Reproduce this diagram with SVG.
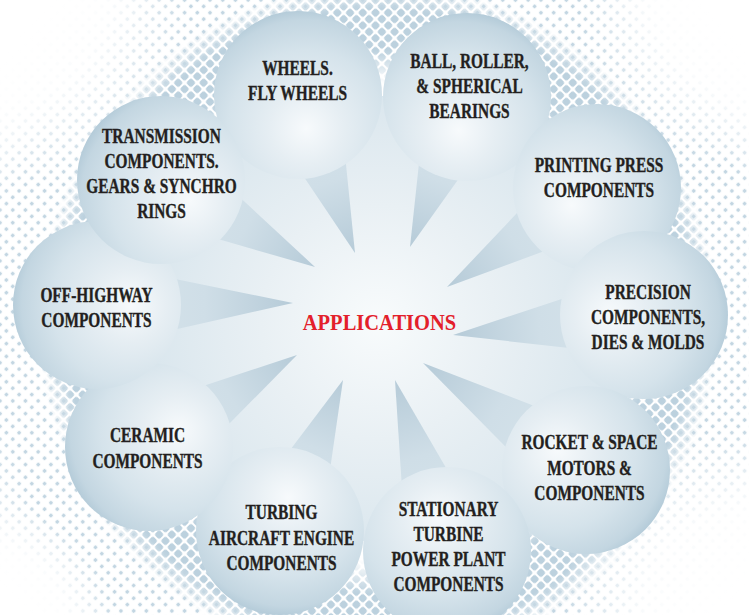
<svg xmlns="http://www.w3.org/2000/svg" width="749" height="615" viewBox="0 0 749 615">
<style>
.lbl{font-family:"Liberation Serif","Times New Roman",serif;font-weight:bold;font-size:20px;fill:#231f20;stroke:#231f20;stroke-width:0.35px;text-anchor:middle}
.title{font-family:"Liberation Serif","Times New Roman",serif;font-weight:bold;font-size:24px;fill:#e3202b;text-anchor:middle}
</style>
<defs>
<radialGradient id="bub" r="0.72">
<stop offset="0" stop-color="#f7fafc"/>
<stop offset="0.3" stop-color="#e6eef3"/>
<stop offset="0.65" stop-color="#d5e3eb"/>
<stop offset="0.9" stop-color="#c3d6e1"/>
<stop offset="1" stop-color="#b1c9d7"/>
</radialGradient>
<radialGradient id="b1" href="#bub" cx="0.55" cy="0.7" fx="0.55" fy="0.7"/>
<radialGradient id="b2" href="#bub" cx="0.45" cy="0.7" fx="0.45" fy="0.7"/>
<radialGradient id="b3" href="#bub" cx="0.35" cy="0.6" fx="0.35" fy="0.6"/>
<radialGradient id="b4" href="#bub" cx="0.3" cy="0.5" fx="0.3" fy="0.5"/>
<radialGradient id="b5" href="#bub" cx="0.33" cy="0.38" fx="0.33" fy="0.38"/>
<radialGradient id="b6" href="#bub" cx="0.45" cy="0.3" fx="0.45" fy="0.3"/>
<radialGradient id="b7" href="#bub" cx="0.55" cy="0.3" fx="0.55" fy="0.3"/>
<radialGradient id="b8" href="#bub" cx="0.68" cy="0.4" fx="0.68" fy="0.4"/>
<radialGradient id="b9" href="#bub" cx="0.7" cy="0.5" fx="0.7" fy="0.5"/>
<radialGradient id="b10" href="#bub" cx="0.67" cy="0.62" fx="0.67" fy="0.62"/>
<linearGradient id="tail" gradientUnits="userSpaceOnUse">
<stop offset="0" stop-color="#d8e5ec"/>
<stop offset="0.55" stop-color="#cfdee7"/>
<stop offset="1" stop-color="#b6cbd8"/>
</linearGradient>
<linearGradient id="t1" href="#tail" x1="298" y1="95" x2="355" y2="253"/>
<linearGradient id="t2" href="#tail" x1="467" y1="97" x2="410" y2="247"/>
<linearGradient id="t3" href="#tail" x1="597" y1="188" x2="447" y2="287"/>
<linearGradient id="t4" href="#tail" x1="644" y1="315" x2="453" y2="335"/>
<linearGradient id="t5" href="#tail" x1="586" y1="470" x2="423" y2="363"/>
<linearGradient id="t6" href="#tail" x1="447" y1="551" x2="395" y2="380"/>
<linearGradient id="t7" href="#tail" x1="280" y1="531" x2="343" y2="380"/>
<linearGradient id="t8" href="#tail" x1="149" y1="447" x2="297" y2="355"/>
<linearGradient id="t9" href="#tail" x1="97" y1="305" x2="293" y2="303"/>
<linearGradient id="t10" href="#tail" x1="161" y1="180" x2="315" y2="267"/>
<radialGradient id="core" gradientUnits="userSpaceOnUse" cx="378" cy="322" r="260">
<stop offset="0" stop-color="#f8fbfc"/>
<stop offset="0.45" stop-color="#e9f0f4"/>
<stop offset="1" stop-color="#d6e4ec"/>
</radialGradient>
<radialGradient id="fadeW">
<stop offset="0" stop-color="#fff" stop-opacity="1"/>
<stop offset="0.55" stop-color="#fff" stop-opacity="0.9"/>
<stop offset="1" stop-color="#fff" stop-opacity="0"/>
</radialGradient>
<pattern id="dotsL" width="9" height="9" patternUnits="userSpaceOnUse" patternTransform="rotate(45)">
<rect x="1" y="1" width="7" height="7" rx="2" fill="#bcd1de"/>
</pattern>
<pattern id="dotsS" width="9" height="9" patternUnits="userSpaceOnUse" patternTransform="rotate(45)">
<rect x="2.8" y="2.8" width="3.4" height="3.4" rx="1" fill="#c3d6e2"/>
</pattern>
<radialGradient id="mgL" gradientUnits="userSpaceOnUse" cx="378" cy="322" r="340">
<stop offset="0" stop-color="#000"/>
<stop offset="0.7" stop-color="#000"/>
<stop offset="0.8" stop-color="#fff"/>
<stop offset="0.92" stop-color="#fff"/>
<stop offset="1" stop-color="#000"/>
</radialGradient>
<radialGradient id="mgS" gradientUnits="userSpaceOnUse" cx="378" cy="322" r="460">
<stop offset="0" stop-color="#000"/>
<stop offset="0.62" stop-color="#000"/>
<stop offset="0.74" stop-color="#fff"/>
<stop offset="0.84" stop-color="#fff"/>
<stop offset="1" stop-color="#000"/>
</radialGradient>
<mask id="mL"><rect width="749" height="615" fill="url(#mgL)"/></mask>
<mask id="mS"><rect width="749" height="615" fill="url(#mgS)"/></mask>
</defs>

<g id="background">
<rect width="749" height="615" fill="#ffffff"/>
<rect width="749" height="615" fill="url(#dotsS)" mask="url(#mS)"/>
<rect width="749" height="615" fill="url(#dotsL)" mask="url(#mL)"/>
<circle cx="0" cy="0" r="190" fill="url(#fadeW)"/>
<circle cx="749" cy="0" r="170" fill="url(#fadeW)"/>
<circle cx="749" cy="615" r="190" fill="url(#fadeW)"/>
<circle cx="0" cy="615" r="110" fill="url(#fadeW)"/>
<polygon points="298,95 467,97 597,188 644,315 586,470 447,551 280,531 149,447 97,305 161,180" fill="url(#core)"/>
</g>

<g id="connectors">
<polygon points="258.5,109.2 337.5,80.8 355,253" fill="url(#t1)"/>
<polygon points="427.7,82.1 506.3,111.9 410,247" fill="url(#t2)"/>
<polygon points="573.9,152.9 620.1,223.1 447,287" fill="url(#t3)"/>
<polygon points="639.6,273.2 648.4,356.8 453,335" fill="url(#t4)"/>
<polygon points="609.1,434.9 562.9,505.1 423,363" fill="url(#t5)"/>
<polygon points="487.2,538.8 406.8,563.2 395,380" fill="url(#t6)"/>
<polygon points="318.8,547.2 241.2,514.8 343,380" fill="url(#t7)"/>
<polygon points="171.2,482.7 126.8,411.3 297,355" fill="url(#t8)"/>
<polygon points="97.4,347 96.6,263 293,303" fill="url(#t9)"/>
<polygon points="140.3,216.6 181.7,143.4 315,267" fill="url(#t10)"/>
</g>

<g id="wheels">
<circle cx="298" cy="95" r="84" fill="url(#b1)"/>
<g transform="translate(297.5,0) scale(0.77,1)"><text class="lbl" x="0" y="75">WHEELS.</text><text class="lbl" x="0" y="100">FLY WHEELS</text></g>
</g>
<g id="bearings">
<circle cx="467" cy="97" r="84" fill="url(#b2)"/>
<g transform="translate(469.5,0) scale(0.77,1)"><text class="lbl" x="0" y="68">BALL, ROLLER,</text><text class="lbl" x="0" y="93">&amp; SPHERICAL</text><text class="lbl" x="0" y="118">BEARINGS</text></g>
</g>
<g id="printing">
<circle cx="597" cy="188" r="84" fill="url(#b3)"/>
<g transform="translate(599,0) scale(0.77,1)"><text class="lbl" x="0" y="172">PRINTING PRESS</text><text class="lbl" x="0" y="197">COMPONENTS</text></g>
</g>
<g id="precision">
<circle cx="644" cy="315" r="84" fill="url(#b4)"/>
<g transform="translate(648,0) scale(0.77,1)"><text class="lbl" x="0" y="299">PRECISION</text><text class="lbl" x="0" y="324">COMPONENTS,</text><text class="lbl" x="0" y="349">DIES &amp; MOLDS</text></g>
</g>
<g id="rocket">
<circle cx="586" cy="470" r="84" fill="url(#b5)"/>
<g transform="translate(589.5,0) scale(0.77,1)"><text class="lbl" x="0" y="449">ROCKET &amp; SPACE</text><text class="lbl" x="0" y="475">MOTORS &amp;</text><text class="lbl" x="0" y="500">COMPONENTS</text></g>
</g>
<g id="stationary">
<circle cx="447" cy="551" r="84" fill="url(#b6)"/>
<g transform="translate(448.5,0) scale(0.77,1)"><text class="lbl" x="0" y="516">STATIONARY</text><text class="lbl" x="0" y="541">TURBINE</text><text class="lbl" x="0" y="566">POWER PLANT</text><text class="lbl" x="0" y="591">COMPONENTS</text></g>
</g>
<g id="turbing">
<circle cx="280" cy="531" r="84" fill="url(#b7)"/>
<g transform="translate(281.5,0) scale(0.77,1)"><text class="lbl" x="0" y="519">TURBING</text><text class="lbl" x="0" y="545">AIRCRAFT ENGINE</text><text class="lbl" x="0" y="570">COMPONENTS</text></g>
</g>
<g id="ceramic">
<circle cx="149" cy="447" r="84" fill="url(#b8)"/>
<g transform="translate(147.5,0) scale(0.77,1)"><text class="lbl" x="0" y="442">CERAMIC</text><text class="lbl" x="0" y="468">COMPONENTS</text></g>
</g>
<g id="offhighway">
<circle cx="97" cy="305" r="84" fill="url(#b9)"/>
<g transform="translate(96.5,0) scale(0.77,1)"><text class="lbl" x="0" y="302">OFF-HIGHWAY</text><text class="lbl" x="0" y="327">COMPONENTS</text></g>
</g>
<g id="transmission">
<circle cx="161" cy="180" r="84" fill="url(#b10)"/>
<g transform="translate(161.5,0) scale(0.77,1)"><text class="lbl" x="0" y="143">TRANSMISSION</text><text class="lbl" x="0" y="168">COMPONENTS.</text><text class="lbl" x="0" y="193">GEARS &amp; SYNCHRO</text><text class="lbl" x="0" y="218">RINGS</text></g>
</g>

<g id="center">
<g transform="translate(379.5,0) scale(0.855,1)"><text class="title" x="0" y="330">APPLICATIONS</text></g>
</g>
</svg>
